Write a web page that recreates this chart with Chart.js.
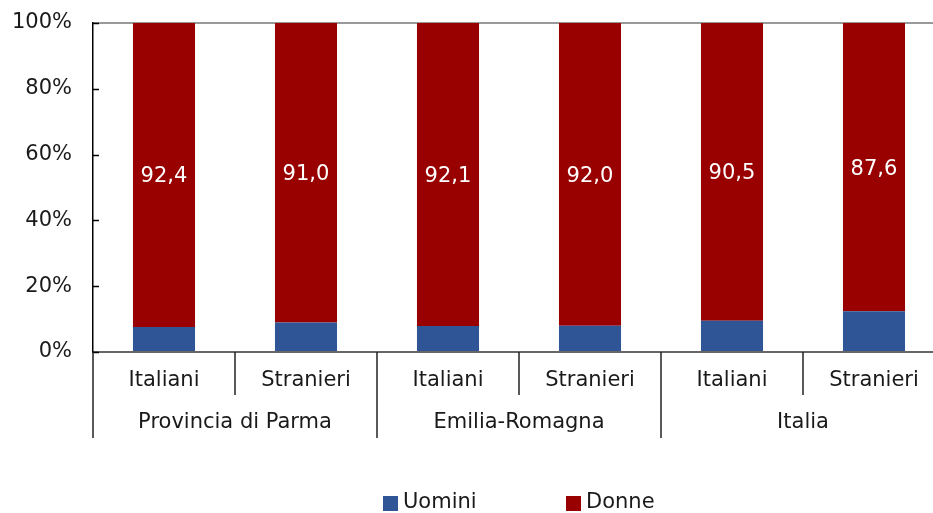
<!DOCTYPE html>
<html>
<head>
<meta charset="utf-8">
<script src="https://cdn.jsdelivr.net/npm/chart.js@4.4.1/dist/chart.umd.min.js"></script>
<style>
  html, body { margin: 0; padding: 0; background: #fff; overflow: hidden; }
  /* l'area del grafico continua oltre il bordo destro, come nell'originale */
  #wrap { width: 945px; height: 513px; }
</style>
</head>
<body>
<div id="wrap"><canvas id="grafico"></canvas></div>
<script>
// dati
const gruppi = ['Provincia di Parma', 'Emilia-Romagna', 'Italia'];
const categorie = ['Italiani', 'Stranieri', 'Italiani', 'Stranieri', 'Italiani', 'Stranieri'];
const serie = ['Uomini', 'Donne'];
const donne = [92.4, 91.0, 92.1, 92.0, 90.5, 87.6];
const uomini = [7.6, 9.0, 7.9, 8.0, 9.5, 12.4];
const yTicks = [0, 20, 40, 60, 80, 100];

const FONT = "'DejaVu Sans', sans-serif";
const testo = '#1a1a1a';
const colori = ['#2F5597', '#990000'];

// etichette dei valori, separatori, doppia riga dell'asse x e legenda
const extra = {
  id: 'extra',
  afterDatasetsDraw(chart) {
    const ctx = chart.ctx;
    const x = chart.scales.x;
    const y = chart.scales.y;
    ctx.save();
    ctx.fillStyle = '#fff';
    ctx.font = '21px ' + FONT;
    ctx.textAlign = 'center';
    ctx.textBaseline = 'middle';
    donne.forEach((v, i) => {
      const mid = y.getPixelForValue(uomini[i] + v / 2);
      ctx.fillText(v.toFixed(1).replace('.', ','), x.getPixelForValue(i), mid + 2);
    });
    ctx.restore();
  },
  afterDraw(chart) {
    const ctx = chart.ctx;
    const x = chart.scales.x;
    const y = chart.scales.y;
    const base = y.getPixelForValue(0);
    const step = x.getPixelForValue(1) - x.getPixelForValue(0);
    ctx.save();
    // piccole tacche dell'asse y, verso l'interno
    ctx.strokeStyle = '#000';
    ctx.lineWidth = 1.5;
    yTicks.forEach(t => {
      const py = Math.round(y.getPixelForValue(t)) + 0.5;
      ctx.beginPath();
      ctx.moveTo(x.left, py);
      ctx.lineTo(x.left + 6, py);
      ctx.stroke();
    });
    // separatori
    ctx.strokeStyle = '#222';
    ctx.lineWidth = 1.5;
    for (let i = 0; i < categorie.length; i++) {
      const px = Math.round(x.getPixelForValue(i) - step / 2);
      const lungo = i % 2 === 0;
      ctx.beginPath();
      ctx.moveTo(px, base);
      ctx.lineTo(px, base + (lungo ? 86 : 43));
      ctx.stroke();
    }
    ctx.fillStyle = testo;
    ctx.font = '21px ' + FONT;
    ctx.textAlign = 'center';
    ctx.textBaseline = 'middle';
    categorie.forEach((c, i) => {
      ctx.fillText(c, x.getPixelForValue(i), base + 29);
    });
    gruppi.forEach((g, j) => {
      const cx = (x.getPixelForValue(j * 2) + x.getPixelForValue(j * 2 + 1)) / 2;
      ctx.fillText(g, cx, base + 71);
    });
    // legenda
    const posLeg = [383, 566];
    ctx.textAlign = 'left';
    serie.forEach((s, k) => {
      ctx.fillStyle = colori[k];
      ctx.fillRect(posLeg[k], 496, 15, 15);
      ctx.fillStyle = testo;
      ctx.fillText(s, posLeg[k] + 20, 503);
    });
    ctx.restore();
  }
};

new Chart(document.getElementById('grafico').getContext('2d'), {
  type: 'bar',
  data: {
    labels: categorie,
    datasets: [
      { label: serie[0], data: uomini, backgroundColor: colori[0], barPercentage: 0.437, categoryPercentage: 1 },
      { label: serie[1], data: donne, backgroundColor: colori[1], barPercentage: 0.437, categoryPercentage: 1 }
    ]
  },
  options: {
    responsive: true,
    maintainAspectRatio: false,
    animation: false,
    layout: { padding: { left: 12, right: 0, top: 23, bottom: 75 } },
    plugins: {
      tooltip: { enabled: false },
      legend: { display: false }
    },
    scales: {
      x: {
        stacked: true,
        ticks: { display: false },
        grid: { display: false },
        border: { color: '#666', width: 2 },
        afterFit(scale) { scale.height = 86; }
      },
      y: {
        stacked: true,
        min: 0,
        max: 100,
        afterBuildTicks(scale) { scale.ticks = yTicks.map(v => ({ value: v })); },
        afterFit(scale) {
          scale.width = 81;
          scale.paddingTop = 0;
          scale.paddingBottom = 0;
        },
        ticks: {
          color: testo,
          font: { family: FONT, size: 21 },
          padding: 21,
          callback: v => v + '%'
        },
        grid: {
          drawTicks: false,
          color: ctx => ctx.tick && ctx.tick.value === 100 ? '#999' : 'rgba(0,0,0,0)',
          lineWidth: 2
        },
        border: { color: '#000', width: 1.5 }
      }
    }
  },
  plugins: [extra]
});
</script>
</body>
</html>
